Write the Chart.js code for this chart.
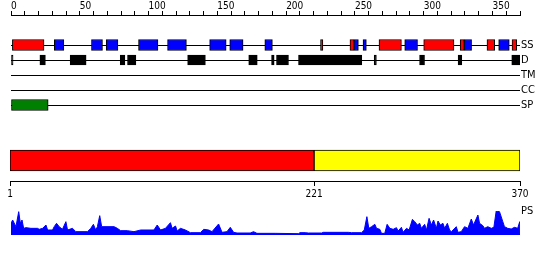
<!DOCTYPE html>
<html>
<head>
<meta charset="utf-8">
<script src="https://cdn.jsdelivr.net/npm/chart.js"></script>
<style>
  body { margin: 0; background: #fff; }
  canvas { position: absolute; left: 0; }
</style>
</head>
<body>
<canvas id="tracks" width="550" height="115" style="top:0"></canvas>
<canvas id="domains" width="550" height="65" style="top:140px"></canvas>
<canvas id="profile" width="550" height="45" style="top:200px"></canvas>
<script>
// track names and where each row sits on the track chart's y scale
const trackNames = ['SS', 'D', 'TM', 'CC', 'SP'];
const trackRows = [30, 45, 60, 75, 90];

// features, as [start, end] residue positions
const helix = [[1, 24], [225, 226.7], [246.4, 249.3], [267.5, 283.8], [300, 322], [326.5, 329.4], [346, 351.6], [364.2, 367.6]];
const strand = [[31.5, 38.4], [58.5, 66.5], [69.2, 77.7], [92.7, 106.8], [113.8, 127.5], [144.4, 156.4], [159, 168.7],
    [184.5, 190], [249.3, 252.5], [255.9, 258.3], [286.2, 295.5], [329.4, 334.8], [354.5, 362.2]];
const disorder = [[0, 1.5], [21, 25], [43, 54.6], [79.4, 82.8], [84.7, 90.8], [128.4, 141.3], [172.8, 179], [189.4, 191.3],
    [193, 201.7], [209, 255], [264, 265.6], [297, 300.6], [325, 327.7], [364, 370]];
const signal = [[0, 27]];

// domain bar and its ticks
const domainRed = [1, 221];
const domainYellow = [221, 370];
const domainTicks = [1, 221, 370];

// PS profile: residue position and value
const psPos = [0, 1.2, 3.6, 5.6, 6.8, 8, 9.2, 10.9, 14.5, 19.3, 20.5, 23, 25.4, 26.6, 30.2, 31.4, 33.1, 35, 37.4, 39.9,
    41.1, 44.7, 47.1, 55.6, 58, 59.9, 61.6, 62.8, 64.5, 65.9, 67.6, 74.9, 77.3, 79.7, 84.5, 89.4, 94.2, 103.9, 106.3,
    108.7, 112.3, 115.9, 117.1, 119.6, 120.8, 123.2, 126.8, 130.4, 137.7, 140.1, 143.7, 146.1, 150.9, 153.4, 157,
    159.4, 161.8, 164.3, 173.9, 176.3, 178.8, 192, 208.9, 210.1, 213.8, 216.2, 225.8, 227, 245.2, 247.6, 254.8, 256.8,
    258.7, 260.1, 262.1, 264.5, 265.7, 268.1, 269.3, 271.7, 273.4, 275.4, 277.8, 280.2, 281.4, 283.8, 285, 287.5,
    289.4, 291.8, 293.5, 295.4, 297.1, 298.3, 300.7, 302, 303.9, 305.6, 307.2, 309.2, 310.4, 312.1, 314, 315.2, 317.2,
    318.8, 320.1, 323.7, 324.9, 327.3, 329.7, 332.1, 334.6, 336.2, 339.4, 340.6, 343, 344.2, 346.6, 349.1, 351, 352.7,
    355.1, 357.5, 358.7, 361.1, 363.6, 366, 368.3, 369.8, 370];
const psVal = [35, 45, 25, 70, 35, 45, 20, 22, 20, 20, 17, 20, 30, 15, 15, 25, 35, 25, 17, 40,
    15, 20, 10, 10, 20, 32, 15, 25, 58, 25, 25, 25, 20, 13, 13, 10, 15, 15, 30,
    15, 20, 37, 20, 27, 12, 20, 15, 7, 7, 17, 15, 10, 33, 8, 10,
    23, 8, 6, 6, 10, 5, 5, 4, 7, 7, 6, 6, 8, 8, 7, 7, 15,
    55, 20, 25, 32, 20, 17, 5, 5, 32, 20, 17, 22, 12, 23, 8, 20,
    15, 47, 40, 30, 35, 20, 32, 15, 50, 30, 45, 20, 42, 30, 35, 20, 35,
    15, 10, 25, 8, 10, 25, 20, 48, 30, 60, 35, 28, 20, 25, 20, 23, 72,
    70, 40, 25, 20, 18, 23, 20, 40, 0];

Chart.defaults.font.family = "'DejaVu Sans Condensed', 'DejaVu Sans', sans-serif";
Chart.defaults.font.size = 10;
Chart.defaults.color = '#000';
Chart.defaults.animation = false;
Chart.defaults.plugins.legend.display = false;
Chart.defaults.plugins.tooltip.enabled = false;

// keep the plot area where the layout padding puts it
function fixSize(w, h) {
    return s => {
        if (w !== null) s.width = w;
        if (h !== null) s.height = h;
        s.paddingTop = s.paddingBottom = s.paddingLeft = s.paddingRight = 0;
    };
}

function rowData(list, row) {
    return list.map(r => ({ x: r, y: row }));
}
function track(list, row, color, thick) {
    return {
        data: rowData(list, row),
        backgroundColor: color,
        borderColor: '#000',
        borderWidth: 1,
        borderSkipped: false,
        barThickness: thick,
        grouped: false
    };
}

new Chart(document.getElementById('tracks'), {
    type: 'bar',
    data: {
        datasets: [
            track(helix, trackRows[0], '#ff0000', 11),
            track(strand, trackRows[0], '#0000ff', 11),
            track(disorder, trackRows[1], '#000000', 10),
            track(signal, trackRows[4], '#008000', 11)
        ]
    },
    options: {
        responsive: false,
        indexAxis: 'y',
        layout: { padding: { left: 11, right: 0, top: 0, bottom: 0 } },
        scales: {
            x: {
                type: 'linear', position: 'top', min: 0, max: 370,
                afterFit: fixSize(null, 15),
                ticks: {
                    stepSize: 10, autoSkip: false, maxRotation: 0, align: 'start', padding: 0,
                    font: { lineHeight: 1 },
                    callback: v => (v % 50 === 0 && v < 370 ? v : '')
                },
                grid: { drawOnChartArea: false, tickLength: 4, color: '#000' },
                border: { color: '#000' }
            },
            y: {
                type: 'linear', position: 'right', reverse: true, min: 0, max: 100, offset: false,
                afterFit: fixSize(30, null),
                afterBuildTicks: s => { s.ticks = trackRows.map(v => ({ value: v })); },
                ticks: { padding: 1, font: { size: 11 }, callback: v => trackNames[trackRows.indexOf(v)] },
                grid: { color: '#000', offset: false, drawTicks: false },
                border: { display: false }
            }
        }
    }
});

new Chart(document.getElementById('domains'), {
    type: 'bar',
    data: {
        datasets: [
            track([domainRed], 20.5, '#ff0000', 21),
            track([domainYellow], 20.5, '#ffff00', 21)
        ]
    },
    options: {
        responsive: false,
        indexAxis: 'y',
        layout: { padding: { left: 10, right: 30, top: 0, bottom: 0 } },
        scales: {
            x: {
                type: 'linear', position: 'bottom', min: 1, max: 370,
                afterFit: fixSize(null, 24),
                afterBuildTicks: s => { s.ticks = domainTicks.map(v => ({ value: v })); },
                ticks: { autoSkip: false, maxRotation: 0, padding: 3, font: { lineHeight: 1 } },
                grid: { drawOnChartArea: false, tickLength: 5, color: '#000' },
                border: { color: '#000' }
            },
            y: { type: 'linear', display: false, reverse: true, min: 0, max: 41, offset: false }
        }
    }
});

new Chart(document.getElementById('profile'), {
    type: 'line',
    data: {
        datasets: [{
            data: psPos.map((p, i) => ({ x: p, y: psVal[i] })),
            borderColor: '#0000ff',
            backgroundColor: '#0000ff',
            borderWidth: 1,
            pointRadius: 0,
            fill: 'origin'
        }]
    },
    options: {
        responsive: false,
        layout: { padding: { left: 11, right: 0, top: 11, bottom: 10 } },
        scales: {
            x: { type: 'linear', display: false, min: 0, max: 370 },
            y: {
                type: 'linear', position: 'right', min: 0, max: 72,
                afterFit: fixSize(30, null),
                afterBuildTicks: s => { s.ticks = [{ value: 72 }]; },
                ticks: { padding: 1, font: { size: 11 }, callback: () => 'PS' },
                grid: { display: false, drawTicks: false },
                border: { display: false }
            }
        }
    }
});
</script>
</body>
</html>
